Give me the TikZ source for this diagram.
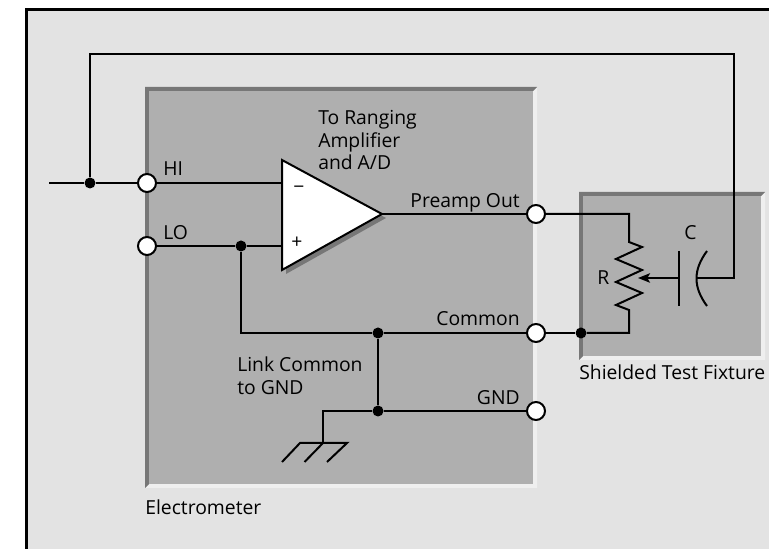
\documentclass[tikz,border=0pt]{standalone}
\usepackage{fontspec}
\setmainfont{Open Sans}
\usetikzlibrary{arrows.meta}
\tikzset{
  wire/.style={line width=1.5pt},
  terminal/.style={circle,draw,line width=1.5pt,fill=white,minimum size=13.5pt,inner sep=0pt},
  junction/.style={circle,fill=black,minimum size=8.25pt,inner sep=0pt},
  lbl/.style={anchor=base west,inner sep=0pt,font=\fontsize{14.5}{16}\selectfont},
  lblr/.style={lbl,anchor=base east},
  panel/.style={fill={rgb, 255:red, 175; green, 175; blue, 175 }},
  bevdark/.style={fill={rgb, 255:red, 119; green, 119; blue, 119 }},
  bevlight/.style={fill={rgb, 255:red, 239; green, 239; blue, 239 }}
}
\begin{document}
\begin{tikzpicture}[x=0.75pt,y=0.75pt,yscale=-1,xscale=1]
\useasboundingbox (0,0) rectangle (769,549);
%Shape: Background
\fill [fill={rgb, 255:red, 227; green, 227; blue, 227 }] (26,9) rectangle (769,549);
\coordinate (framebl) at (26.5,549);
\coordinate (frametl) at (26.5,9.5);
\coordinate (frametr) at (769,9.5);
\draw [line width=2.25pt] (framebl) -- (frametl) -- (frametr);
%Shape: Electrometer
\fill [bevlight] (537,87) -- (537,488) -- (145,488) -- (149,484) -- (533,484) -- (533,91) -- cycle;
\fill [bevdark] (145,488) -- (145,87) -- (537,87) -- (533,91) -- (149,91) -- (149,484) -- cycle;
\fill [panel] (149,91) rectangle (533,484);
%Shape: Fixture
\fill [bevlight] (765,192) -- (765,360) -- (579,360) -- (583,356) -- (761,356) -- (761,196) -- cycle;
\fill [bevdark] (579,360) -- (579,192) -- (765,192) -- (761,196) -- (583,196) -- (583,356) -- cycle;
\fill [panel] (583,196) rectangle (761,356);
%Shape: Amplifier
\coordinate (amptop) at (282,160);
\coordinate (ampbot) at (282,270);
\coordinate (ampout) at (382,214);
\coordinate (ampminus) at (282,183);
\coordinate (ampplus) at (282,246);
\fill [bevdark] (286,164) -- (386,218) -- (286,274) -- cycle;
\draw [wire,fill=white] (amptop) -- (ampout) -- (ampbot) -- cycle;
\node (minus) at (299,190) [inner sep=0pt,font=\fontsize{14.5}{16}\selectfont] {−};
\node (plus) at (297,243) [inner sep=0pt,font=\fontsize{14.5}{16}\selectfont] {+};
% Terminals
\node (hi) at (147,183) [terminal] {};
\node (lo) at (147,246) [terminal] {};
\node (preamp) at (536,214) [terminal] {};
\node (common) at (536,333) [terminal] {};
\node (gnd) at (536,411) [terminal] {};
% Junctions
\node (hijoin) at (90,183) [junction] {};
\node (lojoin) at (241,246) [junction] {};
\node (comjoin) at (378,333) [junction] {};
\node (gndjoin) at (378,411) [junction] {};
\node (fixjoin) at (581,333) [junction] {};
% Corners
\coordinate (input) at (49,183);
\coordinate (fbtl) at (90,54.5);
\coordinate (fbtr) at (734,54.5);
\coordinate (fbbr) at (734,278);
\coordinate (capb) at (697,278);
\coordinate (capa) at (679,278);
\coordinate (wiper) at (638,278);
\coordinate (lobend) at (241,333);
\coordinate (gndbend) at (323,411);
\coordinate (gndtop) at (323,443);
\coordinate (rtopin) at (629,214);
\coordinate (rtop) at (629,242);
\coordinate (rbot) at (629,310);
\coordinate (rbend) at (629,333);
%Straight Lines
\draw [wire] (input) -- (hijoin) -- (hi) -- (ampminus);
\draw [wire] (hijoin) -- (fbtl) -- (fbtr) -- (fbbr) -- (capb);
\draw [wire] (lo) -- (lojoin) -- (ampplus);
\draw [wire] (lojoin) -- (lobend) -- (comjoin) -- (common);
\draw [wire] (comjoin) -- (gndjoin);
\draw [wire] (gndjoin) -- (gnd);
\draw [wire] (gndjoin) -- (gndbend) -- (gndtop);
\draw [wire] (ampout) -- (preamp);
\draw [wire] (preamp) -- (rtopin) -- (rtop) -- (642,247) -- (616,259) -- (642,270) -- (616,282) -- (642,293) -- (616,305) -- (rbot) -- (rbend) -- (fixjoin);
\draw [wire] (common) -- (fixjoin);
%Shape: Ground
\draw [wire] (282,462) -- (300,443) -- (347,443) -- (327,462);
\draw [wire] (gndtop) -- (304.5,462);
%Shape: Capacitor
\draw [wire] (679,251) -- (679,306);
\draw [wire] (707,251) .. controls (693,270) and (693,287) .. (707,306);
\draw [wire,-{Stealth[length=9pt,width=7pt,inset=2pt]}] (capa) -- (wiper);
% Text Node
\node (hilbl) at (163,176) [lbl] {HI};
% Text Node
\node (lolbl) at (163,240) [lbl] {LO};
% Text Node
\node (rng1) at (318,125) [lbl] {To Ranging};
% Text Node
\node (rng2) at (318,148) [lbl] {Amplifier};
% Text Node
\node (rng3) at (318,170) [lbl] {and A/D};
% Text Node
\node (prelbl) at (520,208) [lblr] {Preamp Out};
% Text Node
\node (comlbl) at (520,326) [lblr] {Common};
% Text Node
\node (gndlbl) at (520,404.5) [lblr] {GND};
% Text Node
\node (link1) at (237,372) [lbl] {Link Common};
% Text Node
\node (link2) at (237,395) [lbl] {to GND};
% Text Node
\node (emlbl) at (145,514) [lbl] {Electrometer};
% Text Node
\node (fixlbl) at (579,380) [lbl] {Shielded Test Fixture};
% Text Node
\node (clbl) at (684,239.5) [lbl] {C};
% Text Node
\node (rlbl) at (597,285) [lbl] {R};
\end{tikzpicture}
\end{document}
